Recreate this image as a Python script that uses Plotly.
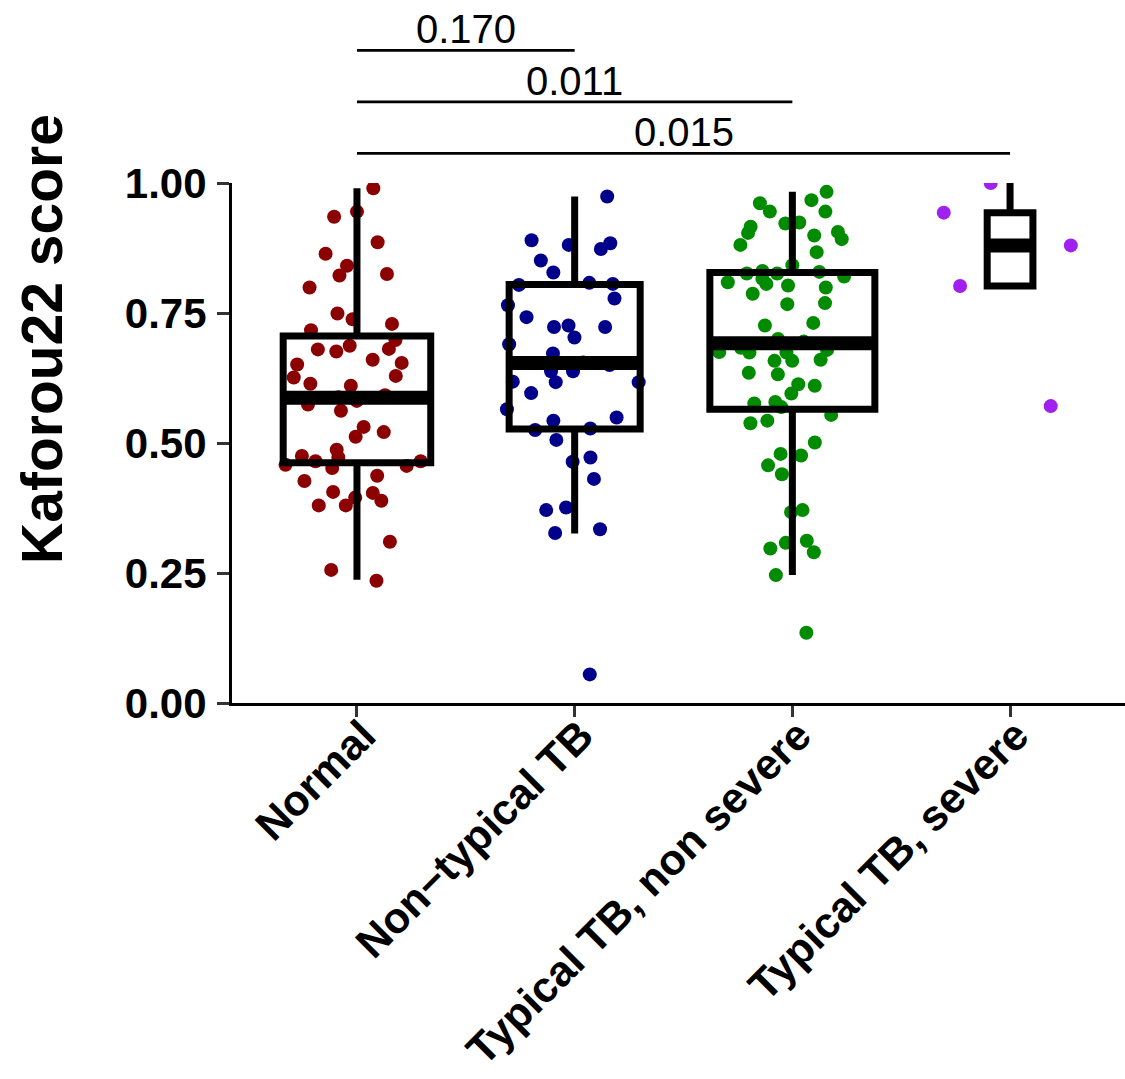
import numpy as np
import plotly.graph_objects as go

# ---------------- data ----------------
categories = ["Normal", "Non\u2212typical TB", "Typical TB, non severe", "Typical TB, severe"]

normal_scores = [
    0.990, 0.945, 0.935, 0.886, 0.864, 0.841, 0.822, 0.825, 0.799, 0.749,
    0.738, 0.729, 0.717, 0.698, 0.681, 0.676, 0.687, 0.680, 0.660, 0.654,
    0.651, 0.629, 0.626, 0.614, 0.610, 0.574, 0.581, 0.562, 0.531, 0.521,
    0.512, 0.487, 0.465, 0.475, 0.472, 0.465, 0.452, 0.458, 0.456, 0.437,
    0.427, 0.404, 0.406, 0.389, 0.380, 0.395, 0.380, 0.310, 0.256, 0.235,
    0.588, 0.592,
]
nontypical_scores = [
    0.974, 0.873, 0.884, 0.881, 0.890, 0.851, 0.828, 0.808, 0.806, 0.804,
    0.765, 0.778, 0.742, 0.723, 0.726, 0.723, 0.703, 0.690, 0.672, 0.655,
    0.650, 0.638, 0.638, 0.617, 0.618, 0.617, 0.596, 0.565, 0.543, 0.549,
    0.525, 0.528, 0.506, 0.472, 0.464, 0.431, 0.371, 0.376, 0.327, 0.334,
    0.055,
]
typical_nonsevere_scores = [
    0.983, 0.967, 0.961, 0.945, 0.945, 0.924, 0.916, 0.922, 0.904, 0.906,
    0.892, 0.881, 0.899, 0.867, 0.842, 0.826, 0.831, 0.820, 0.829, 0.826,
    0.809, 0.803, 0.816, 0.806, 0.799, 0.787, 0.767, 0.769, 0.726, 0.731,
    0.690, 0.700, 0.695, 0.683, 0.674, 0.675, 0.674, 0.679, 0.658, 0.658,
    0.660, 0.635, 0.632, 0.613, 0.610, 0.595, 0.576, 0.579, 0.569, 0.554,
    0.543, 0.538, 0.501, 0.479, 0.476, 0.457, 0.440, 0.371, 0.367, 0.312,
    0.308, 0.297, 0.290, 0.246, 0.135,
]
typical_severe_scores = [1.000, 0.943, 0.880, 0.802, 0.571]

# box statistics
box_q1 = [0.462, 0.527, 0.565, 0.802]
box_median = [0.587, 0.654, 0.692, 0.880]
box_q3 = [0.706, 0.805, 0.828, 0.943]
box_lower = [0.237, 0.326, 0.246, 0.802]
box_upper = [0.990, 0.974, 0.983, 1.000]

# pairwise comparisons (group index pairs), p-values and bracket heights
comparisons = [(0, 1), (0, 2), (0, 3)]
p_labels = ["0.170", "0.011", "0.015"]
bracket_y = [1.255, 1.156, 1.057]

y_ticks = [0.0, 0.25, 0.50, 0.75, 1.00]

# ---------------- styling ----------------
point_colors = ["#8B0000", "#00008B", "#008B00", "#A020F0"]
FONT = "Liberation Sans, Arial, Helvetica, sans-serif"
groups = [normal_scores, nontypical_scores, typical_nonsevere_scores, typical_severe_scores]
positions = list(range(len(categories)))
# varwidth-like box widths (proportional to sqrt(n))
box_widths = [0.094 * np.sqrt(len(g)) for g in groups]

fig = go.Figure()

# jittered points (invisible box, points only)
for pos, vals, col in zip(positions, groups, point_colors):
    fig.add_trace(go.Box(
        x=[pos] * len(vals), y=vals,
        boxpoints="all", jitter=1.0, pointpos=0, width=0.72,
        marker=dict(color=col, size=14, line=dict(width=0)),
        line=dict(color="rgba(0,0,0,0)", width=0),
        fillcolor="rgba(0,0,0,0)",
        whiskerwidth=0, showlegend=False, hoverinfo="skip",
    ))

# box outlines
for i, pos in enumerate(positions):
    fig.add_trace(go.Box(
        x=[pos], q1=[box_q1[i]], median=[box_median[i]], q3=[box_q3[i]],
        lowerfence=[box_lower[i]], upperfence=[box_upper[i]],
        width=box_widths[i], boxpoints=False,
        line=dict(color="black", width=7), fillcolor="rgba(0,0,0,0)",
        whiskerwidth=0, showlegend=False, hoverinfo="skip",
    ))

# thick median bars
for i, pos in enumerate(positions):
    m = box_median[i]
    fig.add_trace(go.Box(
        x=[pos], q1=[m], median=[m], q3=[m], lowerfence=[m], upperfence=[m],
        width=box_widths[i], boxpoints=False,
        line=dict(color="black", width=14), fillcolor="rgba(0,0,0,0)",
        whiskerwidth=0, showlegend=False, hoverinfo="skip",
    ))

# significance brackets
shapes = []
annotations = []
for (a, b), lab, yb in zip(comparisons, p_labels, bracket_y):
    shapes.append(dict(type="line", xref="x", yref="paper",
                       x0=positions[a], x1=positions[b], y0=yb, y1=yb,
                       line=dict(color="black", width=2.8)))
    annotations.append(dict(xref="x", yref="paper", x=(positions[a] + positions[b]) / 2,
                            y=yb, text=lab, showarrow=False, yanchor="middle", yshift=21,
                            font=dict(family=FONT, size=40, color="black")))

# y axis title
annotations.append(dict(xref="paper", yref="paper", x=-0.2128, y=0.70,
                        text="Kaforou22 score", textangle=-90, showarrow=False,
                        xanchor="center", yanchor="middle",
                        font=dict(family=FONT, size=57, color="black", weight="bold")))

fig.update_layout(
    width=1125, height=1079,
    margin=dict(l=232, r=0, t=183, b=376, pad=0),
    paper_bgcolor="white", plot_bgcolor="white",
    boxmode="overlay", showlegend=False,
    shapes=shapes, annotations=annotations,
    xaxis=dict(
        range=[-0.574, 3.528], tickmode="array", tickvals=positions, ticktext=categories,
        tickangle=-45, showgrid=False, zeroline=False, automargin=False,
        showline=True, linecolor="black", linewidth=3,
        ticks="outside", ticklen=11, tickwidth=3, tickcolor="#333333",
        ticklabelstandoff=-24, ticklabelshift=6,
        tickfont=dict(family=FONT, size=43, color="black", weight="bold"),
    ),
    yaxis=dict(
        range=[0, 1], tickmode="array", tickvals=y_ticks, tickformat=".2f",
        showgrid=False, zeroline=False, automargin=False,
        showline=True, linecolor="black", linewidth=3,
        ticks="outside", ticklen=12, tickwidth=3, tickcolor="#333333",
        ticklabelstandoff=2,
        tickfont=dict(family=FONT, size=42, color="black", weight="bold"),
    ),
)

fig.write_html("out.html")
